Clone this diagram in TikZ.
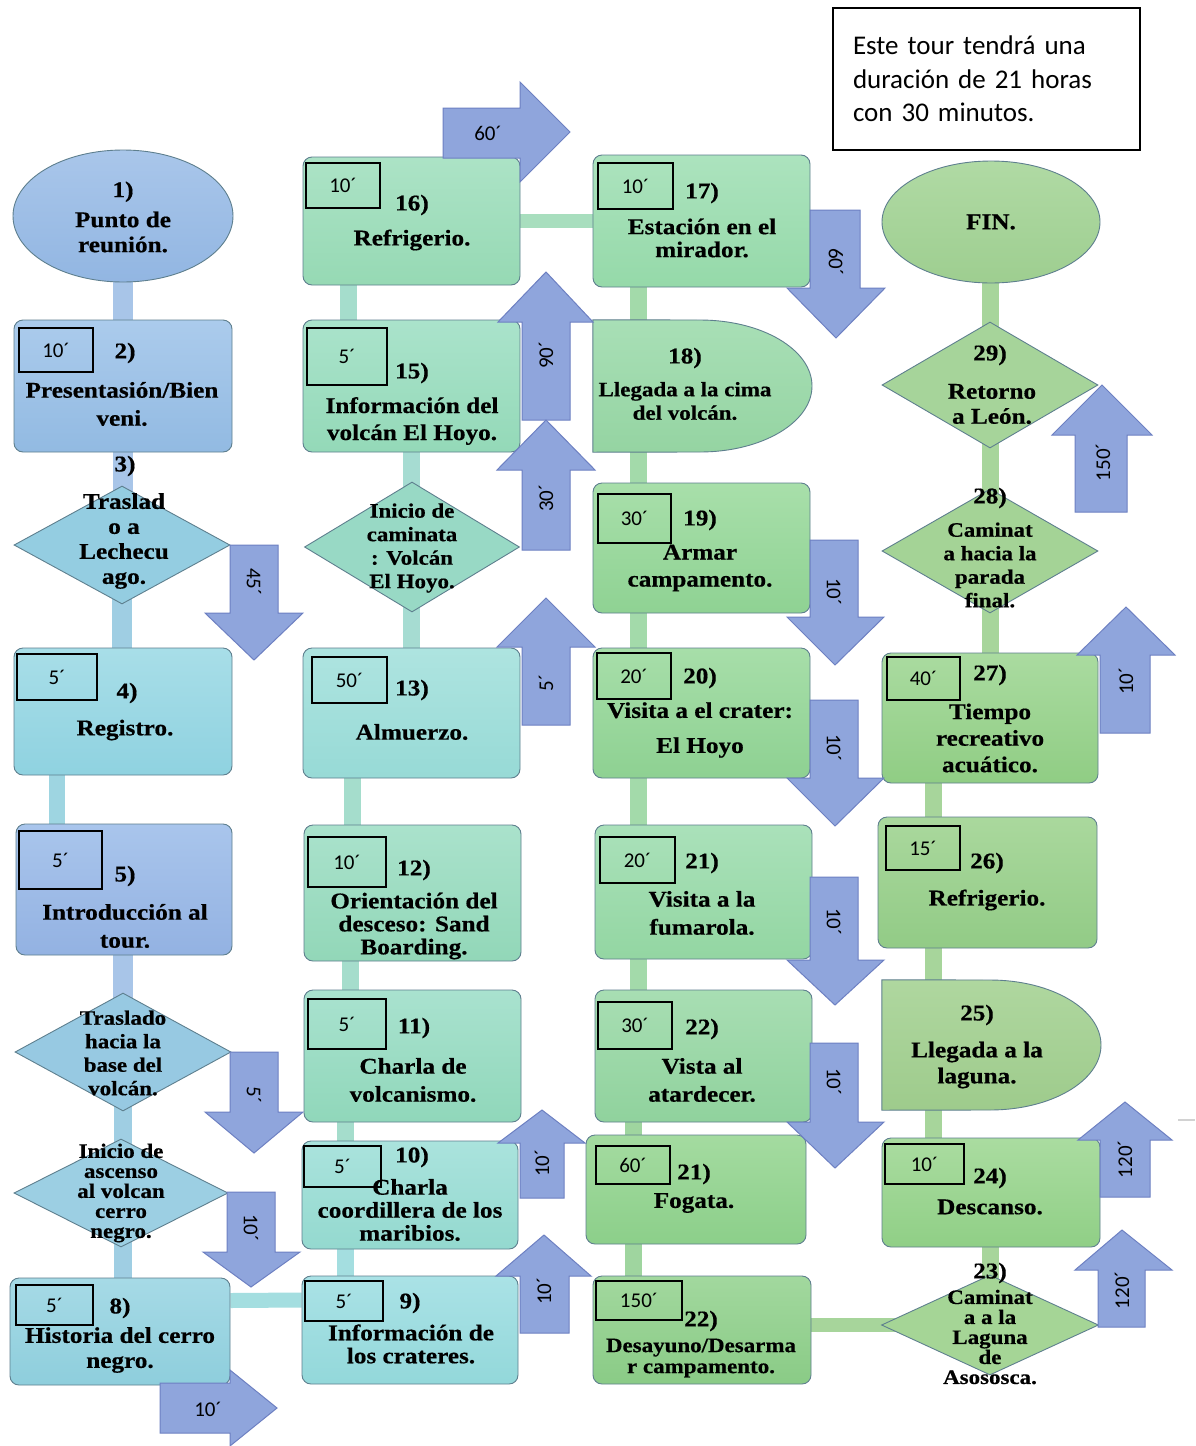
\documentclass[tikz,border=0pt]{standalone}
\usepackage{fontspec}
\setmainfont{Liberation Serif}
\newfontfamily\lblserif{Liberation Serif}[FakeStretch=1.12, BoldFeatures={FakeBold=0.5}]
\newfontfamily\calib{Carlito}
\usetikzlibrary{shapes.geometric}
\pgfdeclarelayer{bg}\pgfdeclarelayer{conn}\pgfsetlayers{bg,conn,main}
\newcommand\lblA{\lblserif\bfseries\fontsize{22.5}{25}\selectfont}
\newcommand\lblB{\lblserif\bfseries\fontsize{20.5}{23.5}\selectfont}
\newcommand\lblC{\lblserif\bfseries\fontsize{20.5}{20}\selectfont}
\newcommand\lblD{\lblserif\bfseries\fontsize{22.5}{23}\selectfont}
\newcommand\minifont{\calib\fontsize{21}{24}\selectfont}
\newcommand\notefont{\calib\fontsize{27}{33.5}\selectfont}
\newcommand\VArr[8]{\draw[blk] (#1,#3) -- (#2,#3) -- (#2,#4) -- (#6,#4) -- (#7,#8) -- (#5,#4) -- (#1,#4) -- cycle;}
\definecolor{nb}{HTML}{5E7F8E}
\definecolor{af}{HTML}{8FA5DC}
\definecolor{al}{HTML}{6D80C2}
\definecolor{e1t}{HTML}{A9C6EA}\definecolor{e1b}{HTML}{92B6E2}
\definecolor{b2t}{HTML}{ABCBEC}\definecolor{b2b}{HTML}{92BAE2}
\definecolor{d3c}{HTML}{94CDE1}
\definecolor{b4t}{HTML}{A8DEE8}\definecolor{b4b}{HTML}{8FD2E0}
\definecolor{b5t}{HTML}{A9C5EC}\definecolor{b5b}{HTML}{93B2E2}
\definecolor{d6c}{HTML}{97C9E2}
\definecolor{d7c}{HTML}{9CCFE3}
\definecolor{b8t}{HTML}{A6DAE6}\definecolor{b8b}{HTML}{8ECEDC}
\definecolor{b9t}{HTML}{AAE2E6}\definecolor{b9b}{HTML}{93D8DA}
\definecolor{b10t}{HTML}{AAE3DD}\definecolor{b10b}{HTML}{94D9CF}
\definecolor{b11t}{HTML}{A9E2CF}\definecolor{b11b}{HTML}{90D7BA}
\definecolor{b12t}{HTML}{AAE2CC}\definecolor{b12b}{HTML}{92D7B8}
\definecolor{b13t}{HTML}{AEE4E0}\definecolor{b13b}{HTML}{97DAD6}
\definecolor{d14c}{HTML}{98D9C5}
\definecolor{b15t}{HTML}{AAE3CB}\definecolor{b15b}{HTML}{94D9B8}
\definecolor{b16t}{HTML}{ACE3C6}\definecolor{b16b}{HTML}{96D9B4}
\definecolor{b17t}{HTML}{ACE3BE}\definecolor{b17b}{HTML}{95D9A9}
\definecolor{s18t}{HTML}{A8DFB6}\definecolor{s18b}{HTML}{95D4A2}
\definecolor{b19t}{HTML}{A8DFAA}\definecolor{b19b}{HTML}{8FD293}
\definecolor{b20t}{HTML}{A7DEA9}\definecolor{b20b}{HTML}{8ED192}
\definecolor{b21t}{HTML}{AAE1BA}\definecolor{b21b}{HTML}{93D6A2}
\definecolor{b22t}{HTML}{A8DEB3}\definecolor{b22b}{HTML}{90D29D}
\definecolor{bFt}{HTML}{A4DBA0}\definecolor{bFb}{HTML}{8CCF8A}
\definecolor{bGt}{HTML}{A2D89E}\definecolor{bGb}{HTML}{8ACB86}
\definecolor{fint}{HTML}{B0DAA4}\definecolor{finb}{HTML}{9ECE90}
\definecolor{d29c}{HTML}{A6D49A}
\definecolor{d28c}{HTML}{A4D396}
\definecolor{b27t}{HTML}{AADBA0}\definecolor{b27b}{HTML}{90CD84}
\definecolor{b26t}{HTML}{AAD89D}\definecolor{b26b}{HTML}{92CB86}
\definecolor{s25t}{HTML}{AFD79F}\definecolor{s25b}{HTML}{9ECB8C}
\definecolor{b24t}{HTML}{AADCA0}\definecolor{b24b}{HTML}{90CF86}
\definecolor{d23c}{HTML}{A5D596}
\definecolor{cB1}{HTML}{A8C5E8}
\definecolor{cB2}{HTML}{9FCEE3}
\definecolor{cB3}{HTML}{9ED5E1}
\definecolor{cT1}{HTML}{A4DEE0}
\definecolor{cT2}{HTML}{A5DDCC}
\definecolor{cT3}{HTML}{A6DCD2}
\definecolor{cG1}{HTML}{A8DEBE}
\definecolor{cG2}{HTML}{A3DAAA}
\definecolor{cG3}{HTML}{9FD59F}
\definecolor{cG4}{HTML}{A7D59B}
\begin{document}
\begin{tikzpicture}[x=1pt,y=-1pt,
  box/.style={rectangle, rounded corners=9, draw=nb, line width=0.9, inner sep=0},
  dia/.style={diamond, draw=nb, line width=0.9, inner sep=0},
  ell/.style={ellipse, draw=nb, line width=0.9, inner sep=0},
  mini/.style={rectangle, draw=black, line width=1.3, inner sep=0, font=\minifont},
  lbl/.style={align=center, inner sep=0, font=\lblA},
  blk/.style={fill=af, draw=al, line width=1, line join=miter},
  alab/.style={inner sep=0, font=\minifont},
  conn/.style={line cap=butt, line width=17},
]
\begin{pgfonlayer}{bg}
\fill[white] (0,0) rectangle (1195,1446);
\end{pgfonlayer}
\useasboundingbox (0,0) rectangle (1195,1446);

% ---------- column 1 ----------
\node[ell, minimum width=220, minimum height=132, top color=e1t, bottom color=e1b] (e1) at (123,216) {};
\node[box, minimum width=218, minimum height=132, top color=b2t, bottom color=b2b] (b2) at (123,386) {};
\node[dia, minimum width=216, minimum height=118, fill=d3c] (d3) at (122,545) {};
\node[box, minimum width=218, minimum height=127, top color=b4t, bottom color=b4b] (b4) at (123,711.5) {};
\node[box, minimum width=216, minimum height=131, top color=b5t, bottom color=b5b] (b5) at (124,889.5) {};
\node[dia, minimum width=216, minimum height=118, fill=d6c] (d6) at (123,1052) {};
\node[dia, minimum width=214, minimum height=108, fill=d7c] (d7) at (121,1193) {};
\node[box, minimum width=220, minimum height=107, top color=b8t, bottom color=b8b] (b8) at (120,1331.5) {};

% ---------- column 2 ----------
\node[box, minimum width=216, minimum height=108, top color=b9t, bottom color=b9b] (b9) at (410,1330) {};
\node[box, minimum width=216, minimum height=108, top color=b10t, bottom color=b10b] (b10) at (410,1195) {};
\node[box, minimum width=217, minimum height=132, top color=b11t, bottom color=b11b] (b11) at (412.5,1056) {};
\node[box, minimum width=217, minimum height=136, top color=b12t, bottom color=b12b] (b12) at (412.5,893) {};
\node[box, minimum width=217, minimum height=130, top color=b13t, bottom color=b13b] (b13) at (411.5,713) {};
\node[dia, minimum width=215, minimum height=130, fill=d14c] (d14) at (412,547) {};
\node[box, minimum width=217, minimum height=132, top color=b15t, bottom color=b15b] (b15) at (411.5,386) {};
\node[box, minimum width=217, minimum height=128, top color=b16t, bottom color=b16b] (b16) at (411.5,221) {};

% ---------- column 3 ----------
\node[box, minimum width=217, minimum height=132, top color=b17t, bottom color=b17b] (b17) at (701.5,221) {};
\node[minimum width=219, minimum height=132, inner sep=0] (s18) at (702.5,386) {};
\draw[draw=nb, line width=0.9, top color=s18t, bottom color=s18b] (s18.north west) -- (700,320) arc[start angle=-90, end angle=90, x radius=112, y radius=66] -- (s18.south west) -- cycle;
\node[box, minimum width=217, minimum height=130, top color=b19t, bottom color=b19b] (b19) at (701.5,548) {};
\node[box, minimum width=217, minimum height=130, top color=b20t, bottom color=b20b] (b20) at (701.5,713) {};
\node[box, minimum width=217, minimum height=134, top color=b21t, bottom color=b21b] (b21) at (703.5,892) {};
\node[box, minimum width=217, minimum height=132, top color=b22t, bottom color=b22b] (b22) at (703.5,1056) {};
\node[box, minimum width=220, minimum height=109, top color=bFt, bottom color=bFb] (bF) at (696,1189.5) {};
\node[box, minimum width=218, minimum height=108, top color=bGt, bottom color=bGb] (bG) at (702,1330) {};

% ---------- column 4 ----------
\node[ell, minimum width=218, minimum height=122, top color=fint, bottom color=finb] (fin) at (991,222) {};
\node[dia, minimum width=216, minimum height=126, fill=d29c] (d29) at (990,385) {};
\node[dia, minimum width=216, minimum height=124, fill=d28c] (d28) at (990,551) {};
\node[box, minimum width=216, minimum height=130, top color=b27t, bottom color=b27b] (b27) at (990,718) {};
\node[box, minimum width=219, minimum height=131, top color=b26t, bottom color=b26b] (b26) at (987.5,882.5) {};
\node[minimum width=219, minimum height=130, inner sep=0] (s25) at (991.5,1045) {};
\draw[draw=nb, line width=0.9, top color=s25t, bottom color=s25b] (s25.north west) -- (990,980) arc[start angle=-90, end angle=90, x radius=111, y radius=65] -- (s25.south west) -- cycle;
\node[box, minimum width=218, minimum height=109, top color=b24t, bottom color=b24b] (b24) at (991,1192.5) {};
\node[dia, minimum width=217, minimum height=100, fill=d23c] (d23) at (990,1325) {};

% ---------- note ----------
\node[draw=black, line width=1.5, minimum width=307, minimum height=142, text width=267, align=left, inner sep=0, font=\notefont] (note) at (986.5,79) {Este tour tendrá una\\duración de 21 horas\\con 30 minutos.};

% ---------- duration boxes ----------
\node[mini, minimum width=74, minimum height=44] (m2) at (56,350) {10´};
\node[mini, minimum width=80, minimum height=46] (m4) at (57,677) {5´};
\node[mini, minimum width=83, minimum height=58] (m5) at (60.5,860) {5´};
\node[mini, minimum width=77, minimum height=40] (m8) at (54.5,1305) {5´};
\node[mini, minimum width=78, minimum height=40] (m9) at (344,1301) {5´};
\node[mini, minimum width=77, minimum height=41] (m10) at (342.5,1166.5) {5´};
\node[mini, minimum width=78, minimum height=50] (m11) at (347,1024) {5´};
\node[mini, minimum width=78, minimum height=50] (m12) at (347,862) {10´};
\node[mini, minimum width=75, minimum height=46] (m13) at (349.5,680) {50´};
\node[mini, minimum width=80, minimum height=57] (m15) at (347,356.5) {5´};
\node[mini, minimum width=74, minimum height=45] (m16) at (343,185.5) {10´};
\node[mini, minimum width=75, minimum height=46] (m17) at (635.5,186) {10´};
\node[mini, minimum width=73, minimum height=49] (m19) at (634.5,518.5) {30´};
\node[mini, minimum width=74, minimum height=46] (m20) at (634,676) {20´};
\node[mini, minimum width=75, minimum height=46] (m21) at (637.5,860) {20´};
\node[mini, minimum width=74, minimum height=47] (m22) at (635,1025.5) {30´};
\node[mini, minimum width=74, minimum height=38] (mF) at (633,1165) {60´};
\node[mini, minimum width=86, minimum height=39] (mG) at (639,1300.5) {150´};
\node[mini, minimum width=73, minimum height=43] (m27) at (923.5,678.5) {40´};
\node[mini, minimum width=74, minimum height=44] (m26) at (923,848) {15´};
\node[mini, minimum width=79, minimum height=40] (m24) at (924.5,1164) {10´};

% ---------- block arrows ----------
\VArr{230}{278}{545}{613}{205}{303}{254}{660}
\VArr{230}{278}{1052}{1112}{205}{303}{254}{1153}
\VArr{227}{275}{1192}{1252}{203}{300}{251}{1287}
\VArr{810}{860}{210}{288}{787}{885}{836}{338}
\VArr{810}{858}{540}{617}{787}{884}{835}{665}
\VArr{810}{858}{700}{778}{787}{884}{835}{826}
\VArr{810}{858}{877}{960}{787}{884}{835}{1005}
\VArr{810}{858}{1043}{1122}{787}{884}{835}{1168}
\VArr{522}{570}{420}{322}{498}{593}{546}{272}
\VArr{522}{570}{550}{470}{497}{595}{546}{420}
\VArr{522}{570}{725}{647}{497}{595}{546}{598}
\VArr{520}{564}{1198}{1143}{498}{585}{542}{1110}
\VArr{520}{569}{1333}{1276}{496}{591}{544}{1235}
\VArr{1075}{1127}{512}{435}{1052}{1152}{1102}{385}
\VArr{1100}{1150}{733}{655}{1077}{1175}{1126}{607}
\VArr{1100}{1150}{1197}{1140}{1078}{1172}{1125}{1102}
\VArr{1098}{1145}{1327}{1270}{1075}{1172}{1122}{1230}
\draw[blk] (443,108) -- (520,108) -- (520,82) -- (570,132) -- (520,182) -- (520,158) -- (443,158) -- cycle;
\draw[blk] (160,1383) -- (230,1383) -- (230,1370) -- (277,1408) -- (230,1446) -- (230,1433) -- (160,1433) -- cycle;
\draw[color=gray!35, line width=2] (1178,1120) -- (1195,1120);

% ---------- arrow labels ----------
\node[alab, rotate=-90] (a45) at (254,582) {45´};
\node[alab, rotate=-90] (a5l) at (254,1095) {5´};
\node[alab, rotate=-90] (a10l) at (251,1228) {10´};
\node[alab, rotate=-90] (a60d) at (836,262) {60´};
\node[alab, rotate=-90] (a10p) at (834,592) {10´};
\node[alab, rotate=-90] (a10q) at (834,748) {10´};
\node[alab, rotate=-90] (a10r) at (834,922) {10´};
\node[alab, rotate=-90] (a10s) at (834,1082) {10´};
\node[alab, rotate=90] (a90) at (546,355) {90´};
\node[alab, rotate=90] (a30) at (546,498) {30´};
\node[alab, rotate=90] (a5u) at (546,683) {5´};
\node[alab, rotate=90] (a10u) at (542,1163) {10´};
\node[alab, rotate=90] (a10v) at (544,1291) {10´};
\node[alab, rotate=90] (a150) at (1103,462) {150´};
\node[alab, rotate=90] (a10w) at (1126,681) {10´};
\node[alab, rotate=90] (a120a) at (1125,1159) {120´};
\node[alab, rotate=90] (a120b) at (1122,1290) {120´};
\node[alab] (a60r) at (488,133) {60´};
\node[alab] (a10b) at (208,1409) {10´};

% ---------- texts ----------
\node[lbl] (t1) at (123,217) {1)\\[5pt]Punto de\\reunión.};
\node[lbl] (t2n) at (125,353) {2)};
\node[lbl] (t2) at (122,404) {Presentasión/Bien\\[3pt]veni.};
\node[lbl] (t3n) at (125,466) {3)};
\node[lbl] (t3) at (124,541) {Traslad\\o a\\Lechecu\\ago.};
\node[lbl] (t4n) at (127,693) {4)};
\node[lbl] (t4) at (125,730) {Registro.};
\node[lbl] (t5n) at (125,876) {5)};
\node[lbl] (t5) at (125,926) {Introducción al\\[3pt]tour.};
\node[lbl, font=\lblB] (t6) at (123,1053) {Traslado\\hacia la\\base del\\volcán.};
\node[lbl, font=\lblC] (t7) at (121,1193) {Inicio de\\ascenso\\al volcan\\cerro\\negro.};
\node[lbl] (t8n) at (120,1308) {8)};
\node[lbl] (t8) at (120,1350) {Historia del cerro\\negro.};
\node[lbl] (t9n) at (410,1303) {9)};
\node[lbl, font=\lblD] (t9) at (411,1344) {Información de\\los crateres.};
\node[lbl] (t10n) at (412,1157) {10)};
\node[lbl, font=\lblD] (t10) at (410,1210) {Charla\\coordillera de los\\maribios.};
\node[lbl] (t11n) at (414,1028) {11)};
\node[lbl] (t11) at (413,1080) {Charla de\\[3pt]volcanismo.};
\node[lbl] (t12n) at (414,870) {12)};
\node[lbl, font=\lblD] (t12) at (414,926) {Orientación del\\desceso: Sand\\Boarding.};
\node[lbl] (t13n) at (412,690) {13)};
\node[lbl] (t13) at (412,732) {Almuerzo.};
\node[lbl, font=\lblB] (t14) at (412,548) {Inicio de\\caminata\\: Volcán\\El Hoyo.};
\node[lbl] (t15n) at (412,373) {15)};
\node[lbl] (t15) at (412,421) {Información del\\[2pt]volcán El Hoyo.};
\node[lbl] (t16n) at (412,205) {16)};
\node[lbl] (t16) at (412,240) {Refrigerio.};
\node[lbl] (t17n) at (702,193) {17)};
\node[lbl, font=\lblD] (t17) at (702,238) {Estación en el\\mirador.};
\node[lbl] (t18n) at (685,358) {18)};
\node[lbl, font=\lblB] (t18) at (685,401) {Llegada a la cima\\del volcán.};
\node[lbl] (t19n) at (700,520) {19)};
\node[lbl] (t19) at (700,568) {Armar\\[2pt]campamento.};
\node[lbl] (t20n) at (700,678) {20)};
\node[lbl] (t20) at (700,730) {Visita a el crater:\\[10pt]El Hoyo};
\node[lbl] (t21n) at (702,863) {21)};
\node[lbl] (t21) at (702,913) {Visita a la\\[3pt]fumarola.};
\node[lbl] (t22n) at (702,1029) {22)};
\node[lbl] (t22) at (702,1080) {Vista al\\[3pt]atardecer.};
\node[lbl] (tFn) at (694,1174) {21)};
\node[lbl] (tF) at (694,1203) {Fogata.};
\node[lbl] (tGn) at (701,1321) {22)};
\node[lbl, font=\lblC] (tG) at (701,1358) {Desayuno/Desarma\\[1pt]r campamento.};
\node[lbl] (t23n) at (990,1273) {23)};
\node[lbl, font=\lblC] (t23) at (990,1337) {Caminat\\a a la\\Laguna\\de\\Asososca.};
\node[lbl] (t24n) at (990,1178) {24)};
\node[lbl] (t24) at (990,1207) {Descanso.};
\node[lbl] (t25n) at (977,1015) {25)};
\node[lbl] (t25) at (977,1065) {Llegada a la\\[1pt]laguna.};
\node[lbl] (t26n) at (987,863) {26)};
\node[lbl] (t26) at (987,900) {Refrigerio.};
\node[lbl] (t27n) at (990,675) {27)};
\node[lbl] (t27) at (990,738) {Tiempo\\[1.5pt]recreativo\\[1.5pt]acuático.};
\node[lbl] (t28n) at (990,498) {28)};
\node[lbl, font=\lblB] (t28) at (990,565) {Caminat\\a hacia la\\parada\\final.};
\node[lbl] (t29n) at (990,355) {29)};
\node[lbl] (t29) at (992,404) {Retorno\\a León.};
\node[lbl] (tfin) at (991,222) {FIN.};

% ---------- connectors ----------
\begin{pgfonlayer}{conn}
\draw[conn, line width=20, draw=cB1] (e1.center) -- (b2.center);
\draw[conn, line width=20, draw=cB1] (b2.center) -- (b2.center |- d3.center);
\draw[conn, line width=20, draw=cB2] (d3.center) -- (d3.center |- b4.center);
\draw[conn, line width=16, draw=cB3] ([xshift=-66pt]b4.south) -- ([xshift=-67pt]b5.north);
\draw[conn, line width=20, draw=cB1] (d6.center |- b5.center) -- (d6.center);
\draw[conn, line width=18, draw=cB2] (d6.center) -- (d6.center |- d7.center);
\draw[conn, line width=18, draw=cB2] (d6.center |- d7.center) -- (d6.center |- b8.center);
\draw[conn, line width=15, draw=cT1] ([yshift=31pt]b8.east) -- ([yshift=30pt]b9.west);
\draw[conn, draw=cT1] ([xshift=-65pt]b9.north) -- ([xshift=-65pt]b10.south);
\draw[conn, draw=cT2] ([xshift=-65pt]b10.north) -- ([xshift=-67.5pt]b11.south);
\draw[conn, draw=cT2] ([xshift=-62.5pt]b11.north) -- ([xshift=-62.5pt]b12.south);
\draw[conn, draw=cT2] ([xshift=-60.5pt]b12.north) -- ([xshift=-59.5pt]b13.south);
\draw[conn, draw=cT3] (b13.center) -- (b13.center |- d14.center);
\draw[conn, draw=cT3] (b13.center |- d14.center) -- (b13.center |- b15.center);
\draw[conn, draw=cT2] ([xshift=-63.5pt]b15.north) -- ([xshift=-63.5pt]b16.south);
\draw[conn, line width=14, draw=cG1] (b16.east) -- (b17.west);
\draw[conn, draw=cG2] ([xshift=-63.5pt]b17.south) -- ([xshift=-64.5pt]s18.north);
\draw[conn, draw=cG2] ([xshift=-64.5pt]s18.south) -- ([xshift=-63.5pt]b19.north);
\draw[conn, draw=cG2] ([xshift=-63.5pt]b19.south) -- ([xshift=-63.5pt]b20.north);
\draw[conn, draw=cG2] ([xshift=-63.5pt]b20.south) -- ([xshift=-65.5pt]b21.north);
\draw[conn, draw=cG2] ([xshift=-65.5pt]b21.south) -- ([xshift=-65.5pt]b22.north);
\draw[conn, draw=cG3] ([xshift=-70.5pt]b22.south) -- ([xshift=-63pt]bF.north);
\draw[conn, draw=cG3] ([xshift=-63pt]bF.south) -- ([xshift=-69pt]bG.north);
\draw[conn, line width=14, draw=cG4] (d23.center -| bG.east) -- (d23.center);
\draw[conn, draw=cG4] (d23.center) -- (d23.center |- b24.center);
\draw[conn, draw=cG4] ([xshift=-58pt]b24.north) -- ([xshift=-58.5pt]s25.south);
\draw[conn, draw=cG4] ([xshift=-58.5pt]s25.north) -- ([xshift=-54.5pt]b26.south);
\draw[conn, draw=cG4] ([xshift=-54.5pt]b26.north) -- ([xshift=-57pt]b27.south);
\draw[conn, draw=cG4] (b27.center) -- (b27.center |- d28.center);
\draw[conn, draw=cG4] (d28.center) -- (d29.center);
\draw[conn, draw=cG4] (d29.center) -- (d29.center |- fin.center);
\end{pgfonlayer}
\end{tikzpicture}
\end{document}
